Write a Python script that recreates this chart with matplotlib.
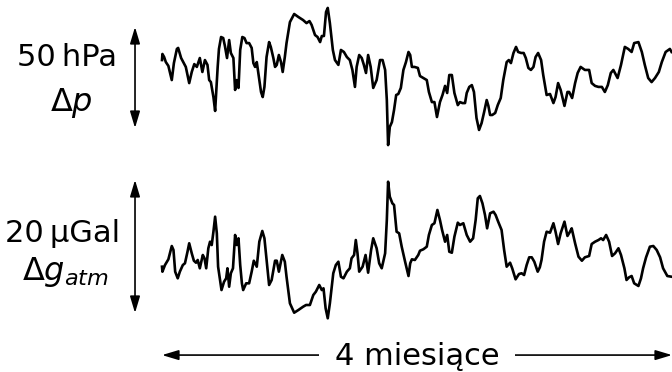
import matplotlib
matplotlib.use('Agg')
import matplotlib.pyplot as plt

plt.rcParams['font.family'] = ['DejaVu Sans']
plt.rcParams['mathtext.fontset'] = 'dejavusans'

# time axis in days (4 months ~ 120 days)
days_p = [0.0, 0.1, 0.5, 0.9, 1.5, 2.3, 2.8, 3.5, 3.8, 4.5, 5.0, 5.6, 6.4, 7.0, 7.6, 8.2, 8.9, 9.5,
          10.1, 10.7, 11.1, 11.5, 12.1, 12.5, 13.1, 13.4, 13.9, 14.4, 14.8, 15.3, 15.8, 16.2, 16.8,
          17.2, 17.6, 18.0, 18.4, 18.9, 19.4, 19.9, 20.5, 21.1, 21.5, 21.9, 22.3, 22.8, 23.3, 23.7,
          24.1, 24.6, 25.2, 25.6, 26.2, 26.6, 27.0, 27.5, 28.0, 28.4, 28.9, 29.3, 30.1, 31.1, 32.1,
          33.2, 34.0, 34.7, 35.2, 36.0, 36.6, 37.2, 37.6, 38.1, 38.6, 39.0, 39.5, 40.2, 40.7, 41.5,
          42.1, 42.8, 43.5, 44.2, 44.8, 45.4, 45.8, 46.4, 47.0, 47.5, 48.0, 48.5, 49.1, 49.7, 50.5,
          51.3, 51.9, 52.5, 52.9, 53.2, 53.6, 54.1, 54.6, 55.1, 55.6, 56.2, 56.8, 57.4, 58.0, 58.4,
          58.8, 59.4, 60.2, 60.7, 61.5, 62.3, 62.8, 63.5, 64.1, 64.7, 65.4, 66.0, 66.6, 67.1, 67.6,
          68.2, 68.8, 69.6, 70.1, 70.7, 71.3, 71.7, 72.3, 72.9, 73.4, 74.0, 74.6, 75.2, 75.8, 76.4,
          76.8, 77.2, 77.7, 78.4, 79.0, 79.7, 80.3, 81.1, 81.6, 82.1, 82.7, 83.3, 83.8, 84.5, 85.1,
          85.6, 86.2, 86.8, 87.4, 87.9, 88.5, 89.2, 89.7, 90.5, 91.3, 92.1, 92.6, 93.2, 93.8, 94.7,
          95.4, 95.8, 96.5, 97.2, 97.8, 98.5, 99.5, 100.5, 101.1, 101.9, 102.7, 103.5, 104.2, 104.9,
          105.6, 106.2, 107.2, 108.0, 108.9, 109.7, 110.5, 111.1, 112.1, 112.9, 113.6, 114.4, 115.2,
          116.0, 116.9, 117.6, 118.5, 119.5, 119.9]
# pressure anomaly, hPa
pressure = [7.4, 10.4, 8.9, 6.4, 4.5, -2.5, 5.9, 12.9, 13.4, 8.4, 6.4, 4.0, -4.0, 1.5, 5.4, 4.0, 8.4, 1.5,
            7.4, 5.0, -2.5, -3.5, -10.9, -17.8, 4.0, 12.9, 18.8, 18.3, 14.4, 8.4, 17.3, 10.9, 8.4,
            -7.4, -2.5, -6.4, 12.4, 18.8, 18.3, 15.8, 15.8, 13.4, 5.9, 4.0, 6.4, -1.0, -8.4, -10.9,
            -5.9, 8.9, 16.3, 13.9, 8.4, 4.0, 5.0, 9.9, 6.4, 1.5, 8.9, 15.8, 26.2, 30.2, 28.7,
            27.2, 25.7, 26.7, 24.8, 19.8, 18.8, 16.3, 19.3, 19.3, 31.2, 33.2, 25.7, 12.4, 7.4, 5.0,
            12.4, 11.4, 8.9, 7.4, 2.5, -5.9, 4.0, 9.9, 8.4, 5.0, 1.0, 9.9, 4.0, -6.4, -2.5,
            7.4, 7.4, 2.5, -12.4, -34.7, -25.7, -23.3, -17.3, -9.9, -9.4, -6.4, 2.5, 6.4, 11.4, 9.9,
            4.0, 4.0, 3.5, -0.5, -1.5, -2.5, -8.4, -13.4, -13.4, -20.8, -13.4, -9.9, -5.4, -8.9, 0.0,
            0.0, -8.9, -14.9, -13.4, -13.9, -13.9, -8.9, -5.9, -5.0, -8.4, -21.3, -27.2, -23.8, -18.3, -12.4,
            -15.3, -19.8, -19.8, -18.8, -14.9, -11.4, -2.5, 6.4, 7.4, 5.9, 10.9, 13.9, 11.4, 10.9, 10.9,
            8.4, 3.5, 2.5, 4.0, 8.9, 10.9, 7.4, 0.0, -9.9, -9.4, -13.9, -10.9, -4.0, -7.4, -15.3,
            -8.4, -8.4, -11.4, -4.0, 1.0, 4.0, 2.5, 2.5, -4.0, -5.4, -5.9, -5.9, -8.4, -5.0,
            1.0, 2.5, -1.5, 5.0, 13.9, 12.9, 11.4, 15.8, 16.3, 11.4, 5.0, -1.5, -3.5,
            -1.5, 1.5, 6.4, 11.4, 12.9, 11.4]

days_g = [0.0, 0.1, 0.7, 1.5, 2.3, 2.7, 3.1, 3.7, 4.2, 4.9, 5.4, 6.0, 6.4, 7.0, 7.5, 8.0, 8.4, 8.9, 9.6,
          10.0, 10.4, 10.9, 11.3, 11.7, 12.1, 12.5, 12.9, 13.2, 14.0, 14.6, 15.1, 15.4, 15.8, 16.2,
          16.7, 17.2, 17.6, 18.0, 18.4, 18.8, 19.1, 19.8, 20.5, 21.1, 21.6, 22.3, 22.9, 23.6, 24.1,
          24.6, 25.2, 25.8, 26.6, 27.0, 27.5, 28.3, 28.9, 29.3, 30.1, 31.1, 32.1, 33.2, 33.9, 34.8,
          35.6, 36.2, 37.0, 37.6, 38.0, 38.5, 39.0, 39.5, 40.3, 40.9, 41.5, 42.1, 42.7, 43.5, 44.2,
          44.6, 45.2, 45.6, 46.0, 46.4, 47.2, 47.9, 48.5, 49.2, 49.7, 50.5, 51.1, 51.7, 52.5, 52.9,
          53.2, 53.6, 54.2, 54.6, 55.2, 55.8, 56.4, 57.2, 58.0, 58.4, 58.8, 59.5, 60.3, 60.7, 61.5,
          62.3, 62.8, 63.5, 64.1, 64.8, 65.4, 65.9, 66.6, 67.1, 67.6, 68.2, 68.8, 69.6, 70.1, 70.9,
          71.7, 72.5, 73.2, 73.8, 74.3, 74.8, 75.4, 76.0, 76.5, 77.2, 78.0, 78.5, 79.1, 79.9, 80.5,
          81.1, 81.9, 82.4, 83.2, 84.0, 84.6, 85.2, 85.8, 86.4, 87.0, 87.6, 88.4, 88.9, 89.3, 89.9,
          90.5, 91.3, 92.1, 92.6, 93.2, 93.8, 94.7, 95.4, 96.0, 96.4, 97.2, 98.0, 98.8, 99.5, 100.5,
          101.1, 101.9, 102.7, 103.3, 103.8, 104.5, 105.2, 105.9, 106.6, 107.4, 108.0, 108.8, 109.3,
          109.9, 110.5, 111.1, 112.1, 112.7, 113.2, 113.9, 114.8, 115.6, 116.4, 117.2, 117.9, 118.9, 119.9]
# atmospheric gravity effect, microGal
gravity = [-2.51, -3.26, -2.26, -1.40, 0.60, 0.0, -3.26, -4.26, -3.26, -2.26, -2.00, -0.26, 1.01, -0.50,
           -1.61, -1.91, -1.50, -2.75, -0.75, -1.25, -2.75, 0.26, 1.25, 0.75, 2.75, 5.01, 2.51, -2.51,
           -6.02, -4.77, -4.26, -2.75, -5.52, -3.50, -2.75, 2.26, 0.75, 1.76, -2.26, -5.01, -6.02,
           -5.01, -5.01, -3.26, -1.61, -2.51, 1.25, 2.86, 1.76, -1.50, -5.26, -4.51, -1.61, -1.61,
           -3.26, -0.75, -1.76, -4.02, -8.02, -9.43, -9.02, -8.53, -8.27, -8.27, -6.77, -6.27, -5.26,
           -6.02, -5.76, -8.77, -10.27, -8.02, -3.50, -2.26, -1.76, -4.02, -4.26, -3.26, -2.75, -1.25,
           -0.75, 1.50, -0.50, -3.26, -2.51, -0.75, -3.41, 0.0, 1.76, 0.26, -2.00, -2.75, -0.50, 4.51,
           10.27, 8.02, 7.02, 6.77, 2.75, 2.51, 0.50, -1.76, -3.91, -2.00, -1.40, -1.50, -0.75, -0.11,
           0.11, 0.50, 2.26, 3.76, 4.02, 6.02, 4.51, 3.01, 1.25, 2.26, -0.26, -0.41, 2.00, 4.11, 3.76,
           4.02, 2.26, 1.25, 1.76, 4.51, 7.78, 8.12, 7.02, 5.26, 3.26, 5.52, 5.76, 5.26, 4.26, 3.01,
           0.0, -2.51, -1.91, -2.75, -4.41, -3.61, -3.50, -3.76, -2.26, -1.10, -1.10, -1.76, -3.26,
           -2.60, -1.50, 1.25, 2.75, 2.60, 4.02, 2.75, 0.90, 2.51, 4.26, 2.11, 2.75, 3.26, 1.01,
           -1.01, -1.61, -1.10, -0.90, 0.90, 1.25, 1.50, 1.76, 1.50, 2.26, 1.25, -0.90, -0.50, 0.26,
           -0.75, -2.75, -4.51, -4.11, -3.91, -5.01, -5.41, -4.26, -2.75, -1.10, 0.50, 0.60, 0.0,
           -1.10, -2.75, -3.91, -4.02]

scale_p = 50   # hPa
scale_g = 20   # microGal
span_label = '4 miesiące'

fig = plt.figure(figsize=(6.72, 3.72), dpi=100)
left, width = 162 / 672, 510 / 672
ax1 = fig.add_axes([left, 212 / 372, width, 160 / 372])
ax2 = fig.add_axes([left, 42 / 372, width, 160 / 372])

ax1.plot(days_p, pressure, color='black', lw=1.9, clip_on=False)
ax2.plot(days_g, gravity, color='black', lw=1.9, clip_on=False)

ax1.set_xlim(0, 120)
ax2.set_xlim(0, 120)
ax1.set_ylim(-42.08, 37.13)
ax2.set_ylim(-12.03, 12.03)
for ax in (ax1, ax2):
    ax.axis('off')

arrow = dict(arrowstyle='<|-|>,head_length=1.0,head_width=0.3', color='black', lw=1.2,
             shrinkA=0, shrinkB=0, mutation_scale=10)
fs = 22

# pressure scale bar
ax1.annotate('', xy=(-6.35, 23.76), xytext=(-6.35, 23.76 - scale_p),
             arrowprops=arrow, annotation_clip=False)
ax1.text(-22.4, 4.46, '50\u2009hPa', fontsize=fs, ha='center', va='baseline')
ax1.text(-21.4, -17.8, r'$\Delta p$', fontsize=fs + 1, ha='center', va='baseline')

# gravity scale bar
ax2.annotate('', xy=(-6.35, 10.53), xytext=(-6.35, 10.53 - scale_g),
             arrowprops=arrow, annotation_clip=False)
ax2.text(-23.3, 1.25, '20\u2009μGal', fontsize=fs, ha='center', va='baseline')
ax2.text(-22.8, -4.51, r'$\Delta g_{atm}$', fontsize=fs + 1, ha='center', va='baseline')

# time span arrow
ax2.annotate('', xy=(days_g[0], -15.8), xytext=(120, -15.8),
             arrowprops=arrow, annotation_clip=False)
ax2.text(60, -17.3, span_label, fontsize=fs, ha='center', va='baseline',
         bbox=dict(boxstyle='square,pad=0.5', fc='white', ec='none'))

fig.savefig('out.png', dpi=100)
